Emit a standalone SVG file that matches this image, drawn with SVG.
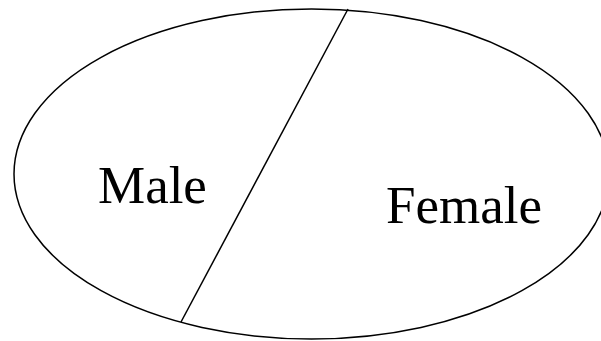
<svg xmlns="http://www.w3.org/2000/svg" width="601" height="341" viewBox="0 0 601 341">
<style>
.shape{fill:none;stroke:#000;stroke-width:1.5}
.lbl{font-family:"Liberation Serif","Times New Roman",serif;font-size:53px;fill:#000}
</style>
<rect width="601" height="341" fill="#fff"/>
<g id="set">
<ellipse class="shape" cx="311.5" cy="174" rx="297.5" ry="165"/>
</g>
<g id="connectors">
<line class="shape" x1="348" y1="9" x2="181" y2="322"/>
</g>
<g id="male"><text class="lbl" x="98" y="203">Male</text></g>
<g id="female"><text class="lbl" x="386" y="223">Female</text></g>
</svg>
